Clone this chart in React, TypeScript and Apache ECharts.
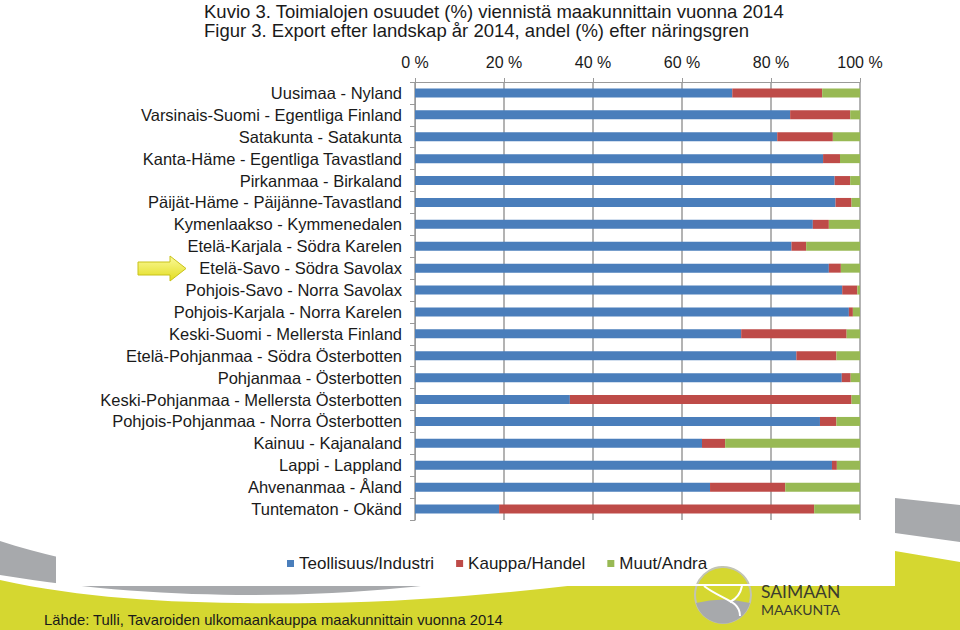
import React, { useEffect, useRef } from "react";
import * as echarts from "echarts";

const categories = [
  "Uusimaa - Nyland",
  "Varsinais-Suomi - Egentliga Finland",
  "Satakunta - Satakunta",
  "Kanta-Häme - Egentliga Tavastland",
  "Pirkanmaa - Birkaland",
  "Päijät-Häme - Päijänne-Tavastland",
  "Kymenlaakso - Kymmenedalen",
  "Etelä-Karjala - Södra Karelen",
  "Etelä-Savo - Södra Savolax",
  "Pohjois-Savo - Norra Savolax",
  "Pohjois-Karjala - Norra Karelen",
  "Keski-Suomi - Mellersta Finland",
  "Etelä-Pohjanmaa - Södra Österbotten",
  "Pohjanmaa - Österbotten",
  "Keski-Pohjanmaa - Mellersta Österbotten",
  "Pohjois-Pohjanmaa - Norra Österbotten",
  "Kainuu - Kajanaland",
  "Lappi - Lappland",
  "Ahvenanmaa - Åland",
  "Tuntematon - Okänd",
];

const teollisuus = [71.3, 84.3, 81.4, 91.7, 94.3, 94.5, 89.4, 84.6, 93.0, 96.0, 97.5, 73.3, 85.7, 95.9, 34.8, 91.0, 64.5, 93.7, 66.3, 18.9];
const kauppa = [20.2, 13.5, 12.5, 3.8, 3.5, 3.6, 3.6, 3.3, 2.7, 3.4, 0.9, 23.7, 9.0, 2.0, 63.3, 3.7, 5.2, 1.1, 16.9, 70.8];
const muut = [8.5, 2.2, 6.1, 4.5, 2.2, 1.9, 7.0, 12.1, 4.3, 0.6, 1.6, 3.0, 5.3, 2.1, 1.9, 5.3, 30.3, 5.2, 16.8, 10.3];

const seriesNames = ["Teollisuus/Industri", "Kauppa/Handel", "Muut/Andra"];
const xTicks = [0, 20, 40, 60, 80, 100];

const titleLines = [
  "Kuvio 3. Toimialojen osuudet (%) viennistä maakunnittain vuonna 2014",
  "Figur 3. Export efter landskap år 2014, andel (%) efter näringsgren",
];
const sourceText = "Lähde: Tulli, Tavaroiden ulkomaankauppa maakunnittain vuonna 2014";

const FONT = "'Liberation Sans', Arial, sans-serif";

let registered = false;
function registerShapes() {
  if (registered) return;
  registered = true;
  echarts.graphic.registerShape(
    "grayBand",
    echarts.graphic.extendPath(
      "M0,541 C120,580 250,585 400,585 C600,585 750,510 895,498 L960,505 L960,542 L895,533 C700,550 500,580 400,588 C300,598 150,600 0,575 Z",
      {}
    )
  );
  echarts.graphic.registerShape(
    "yellowBand",
    echarts.graphic.extendPath(
      "M0,580 C100,602 200,604 320,603 C550,600 750,555 895,551 L960,562 L960,630 L0,630 Z",
      {}
    )
  );
  echarts.graphic.registerShape(
    "logoGray",
    echarts.graphic.extendPath("M696,603 Q723,596 750,603 A28,28 0 0 1 696,603 Z", {})
  );
}

export default function App() {
  const ref = useRef<HTMLDivElement>(null);

  useEffect(() => {
    if (!ref.current) return;
    registerShapes();
    const chart = echarts.init(ref.current, null, { renderer: "svg" });
    const colors = ["#4a7ebb", "#be4b48", "#98b954"];
    const data = [teollisuus, kauppa, muut];

    chart.setOption({
      animation: false,
      backgroundColor: "#ffffff",
      textStyle: { fontFamily: FONT },
      title: {
        text: titleLines.join("\n"),
        left: 204,
        top: 1.5,
        padding: 0,
        z: 10,
        textStyle: { fontSize: 18.5, lineHeight: 19, fontWeight: "normal", color: "#1a1a1a", fontFamily: FONT },
      },
      grid: { left: 415, right: 100, top: 82, bottom: 110, containLabel: false, z: 10 },
      xAxis: {
        type: "value",
        position: "top",
        min: xTicks[0],
        max: xTicks[xTicks.length - 1],
        interval: 20,
        z: 10,
        axisLabel: { formatter: "{value} %", fontSize: 16, color: "#1a1a1a", margin: 12, fontFamily: FONT },
        axisLine: { show: true, lineStyle: { color: "#9a9a9a", width: 1 } },
        axisTick: { show: true, length: 4, lineStyle: { color: "#9a9a9a" } },
        splitLine: { show: true, lineStyle: { color: "#9a9a9a", width: 1.5 } },
      },
      yAxis: {
        type: "category",
        inverse: true,
        data: categories,
        z: 10,
        axisLine: { show: true, lineStyle: { color: "#9a9a9a", width: 1 } },
        axisTick: { show: true, interval: 0, length: 5, lineStyle: { color: "#9a9a9a" } },
        axisLabel: { interval: 0, fontSize: 16.5, color: "#1a1a1a", margin: 13, fontFamily: FONT },
      },
      legend: {
        data: seriesNames,
        left: 282,
        top: 550,
        icon: "rect",
        itemWidth: 7,
        itemHeight: 7,
        itemGap: 22,
        z: 10,
        textStyle: { fontSize: 17, color: "#1a1a1a", fontFamily: FONT },
      },
      series: seriesNames.map((name, i) => ({
        name,
        type: "bar",
        stack: "total",
        barWidth: 9,
        z: 10,
        itemStyle: { color: colors[i] },
        data: data[i],
      })),
      graphic: [
        { type: "yellowBand", x: 0, y: 0, z: 0, style: { fill: "#d5d730" } },
        { type: "grayBand", x: 0, y: 0, z: 0, style: { fill: "#a7a9ac" } },
        { type: "rect", z: 1, shape: { x: 56, y: 0, width: 839, height: 585 }, style: { fill: "#ffffff" } },
        {
          type: "circle",
          z: 1,
          shape: { cx: 723, cy: 595, r: 28 },
          style: { fill: "#d5d730", stroke: "#c2c4b4", lineWidth: 2 },
        },
        { type: "logoGray", x: 0, y: 0, z: 1, style: { fill: "#a7a9ac" } },
        {
          type: "bezierCurve",
          z: 2,
          shape: { x1: 704, y1: 586, x2: 740, y2: 616, cpx1: 722, cpy1: 600, cpx2: 740, cpy2: 600 },
          style: { stroke: "#ffffff", lineWidth: 2, fill: null },
        },
        {
          type: "bezierCurve",
          z: 2,
          shape: { x1: 742, y1: 586, x2: 730, y2: 602, cpx1: 740, cpy1: 596, cpx2: 734, cpy2: 600 },
          style: { stroke: "#ffffff", lineWidth: 2, fill: null },
        },
        {
          type: "rect",
          z: 1,
          shape: { x: 56, y: 584, width: 839, height: 2 },
          style: { fill: "#ffffff" },
        },
        {
          type: "text",
          z: 2,
          x: 761,
          y: 591,
          style: { text: "SAIMAAN", fontSize: 17.5, fontFamily: "Lato, 'Open Sans', sans-serif", fill: "#3b3d2e", verticalAlign: "middle" },
        },
        {
          type: "text",
          z: 2,
          x: 761,
          y: 609,
          style: { text: "MAAKUNTA", fontSize: 14, fontFamily: "Lato, 'Open Sans', sans-serif", fill: "#3b3d2e", verticalAlign: "middle" },
        },
        {
          type: "text",
          z: 2,
          x: 44,
          y: 620,
          style: { text: sourceText, fontSize: 14.8, fontFamily: FONT, fill: "#1a1a1a", verticalAlign: "middle" },
        },
        {
          type: "polygon",
          z: 2,
          shape: {
            points: [
              [138, 262],
              [170, 262],
              [170, 256],
              [186, 268.5],
              [170, 281],
              [170, 275],
              [138, 275],
            ],
          },
          style: {
            fill: new echarts.graphic.LinearGradient(0, 0, 0, 1, [
              { offset: 0, color: "#fbfa9a" },
              { offset: 1, color: "#e2dc1e" },
            ]),
            stroke: "#c8c21a",
            lineWidth: 1,
          },
        },
      ],
    });
    return () => chart.dispose();
  }, []);

  return (
    <div
      ref={ref}
      style={{ position: "fixed", left: 0, top: 0, width: 960, height: 630 }}
    />
  );
}
